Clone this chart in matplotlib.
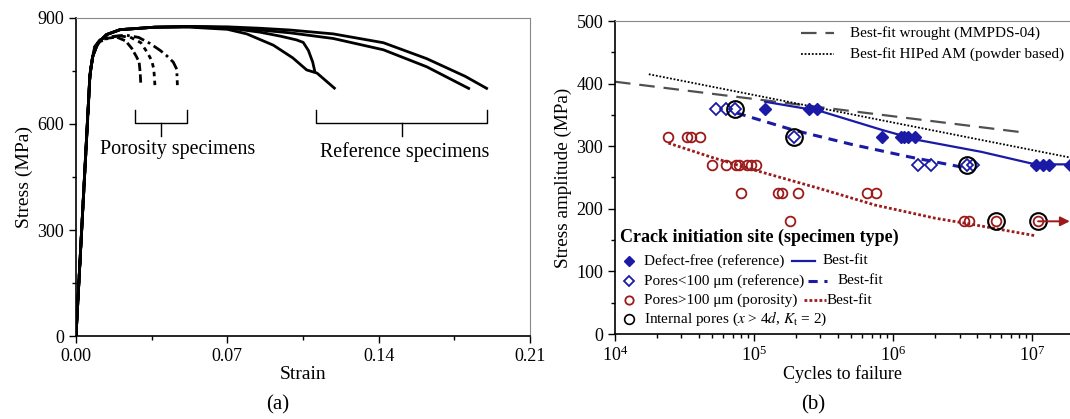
import numpy as np
import matplotlib
matplotlib.use("Agg")
import matplotlib.pyplot as plt
from matplotlib.ticker import MultipleLocator, LogLocator, NullFormatter

plt.rcParams['font.family'] = ['Liberation Serif', 'DejaVu Serif']
plt.rcParams['mathtext.fontset'] = 'stix'

# ---------------- Panel (a) data: stress-strain curves ----------------
ref1_strain = [0.0, 0.0064, 0.0077, 0.0101, 0.0141, 0.0204, 0.0364, 0.0524, 0.0700, 0.0790, 0.0913, 0.1003, 0.1067, 0.1115, 0.1200]
ref1_stress = [0, 735, 791, 829, 853, 867, 874, 874, 868, 855, 823, 787, 753, 744, 699]
ref2_strain = [0.0, 0.0064, 0.0077, 0.0101, 0.0141, 0.0204, 0.0364, 0.0524, 0.0700, 0.0850, 0.0950, 0.1020, 0.1051, 0.1075, 0.1095, 0.1106]
ref2_stress = [0, 735, 791, 829, 853, 867, 874, 876, 872, 860, 848, 838, 831, 808, 775, 745]
ref3_strain = [0.0, 0.0064, 0.0077, 0.0101, 0.0141, 0.0204, 0.0364, 0.0524, 0.0700, 0.0850, 0.0990, 0.1190, 0.1422, 0.1622, 0.1822]
ref3_stress = [0, 735, 791, 829, 853, 867, 874, 876, 873, 866, 858, 842, 810, 762, 699]
ref4_strain = [0.0, 0.0064, 0.0077, 0.0101, 0.0141, 0.0204, 0.0364, 0.0524, 0.0700, 0.0850, 0.0990, 0.1190, 0.1422, 0.1622, 0.1800, 0.1905]
ref4_stress = [0, 735, 791, 829, 853, 867, 874, 876, 875, 871, 866, 855, 830, 785, 735, 699]

por1_strain = [0.0, 0.0066, 0.0085, 0.0110, 0.0150, 0.0188, 0.0230, 0.0258, 0.0280, 0.0292, 0.0297, 0.0300]
por1_stress = [0, 750, 810, 833, 843, 846, 835, 814, 790, 775, 745, 708]
por2_strain = [0.0, 0.0066, 0.0085, 0.0110, 0.0150, 0.0200, 0.0250, 0.0300, 0.0327, 0.0350, 0.0360, 0.0365]
por2_stress = [0, 750, 815, 835, 845, 849, 846, 830, 805, 780, 755, 710]
por3_strain = [0.0, 0.0066, 0.0085, 0.0110, 0.0150, 0.0200, 0.0235, 0.0290, 0.0342, 0.0390, 0.0420, 0.0450, 0.0466, 0.0469]
por3_stress = [0, 750, 818, 838, 846, 850, 851, 845, 828, 808, 793, 775, 755, 710]

# bracket annotations (strain positions, stress levels)
por_bracket = [0.0273, 0.0391, 0.0513]
ref_bracket = [0.1111, 0.1506, 0.1902]
bracket_levels = [640, 604, 567]

# ---------------- Panel (b) data: S-N ----------------
df_N = [1.2e5, 2.5e5, 2.85e5, 8.3e5, 1.13e6, 1.2e6, 1.27e6, 1.43e6, 1.06e7, 1.19e7, 1.32e7, 1.86e7]
df_S = [360, 360, 360, 315, 315, 315, 315, 315, 270, 270, 270, 270]

sp_N = [5.3e4, 6.3e4, 7.3e4, 1.92e5, 1.51e6, 1.86e6, 3.4e6, 3.75e6]
sp_S = [360, 360, 360, 315, 270, 270, 270, 270]

lp_N = [2.42e4, 3.27e4, 3.5e4, 4.06e4,
        5.0e4, 6.24e4, 7.4e4, 7.8e4, 8.9e4, 9.5e4, 1.04e5,
        8.0e4, 1.49e5, 1.59e5, 2.07e5, 6.5e5, 7.5e5,
        1.81e5, 3.25e6, 3.5e6, 5.5e6, 1.1e7]
lp_S = [315, 315, 315, 315,
        270, 270, 270, 270, 270, 270, 270,
        225, 225, 225, 225, 225, 225,
        180, 180, 180, 180, 180]

ip_N = [7.3e4, 1.92e5, 3.4e6, 5.5e6, 1.1e7]
ip_S = [360, 315, 270, 180, 180]

runout_N = [1.1e7, 1.86e7]
runout_S = [180, 180]

fit_df_N = [1.2e5, 3.0e5, 8.3e5, 1.5e6, 4.3e6, 1.05e7, 1.86e7]
fit_df_S = [371, 356, 326, 310, 291, 271, 271]
fit_sp_N = [7.5e4, 1.9e5, 5.0e5, 1.3e6, 3.4e6]
fit_sp_S = [353, 326, 303, 283, 265]
fit_lp_N = [2.42e4, 5.0e4, 1.0e5, 3.0e5, 7.4e5, 2.0e6, 3.5e6, 1.05e7]
fit_lp_S = [305, 282, 262, 232, 206, 185, 176, 157]
wrought_N = [1.0e4, 8.6e6]
wrought_S = [403, 322]
hiped_N = [1.75e4, 1.86e7]
hiped_S = [415, 282]

# ---------------- figure ----------------
W, H = 1070, 419
fig = plt.figure(figsize=(W / 100, H / 100), dpi=100)

def frac(x0, y0, x1, y1):
    return [x0 / W, 1 - y1 / H, (x1 - x0) / W, (y1 - y0) / H]

ax1 = fig.add_axes(frac(76, 18, 530, 336))
ax2 = fig.add_axes(frac(615, 21, 1070, 334))

fs = 13
lab_fs = 14
spine_gray = '#888888'

# ---- panel a ----
lw = 2.0
for s, t in [(ref1_strain, ref1_stress), (ref2_strain, ref2_stress),
             (ref3_strain, ref3_stress), (ref4_strain, ref4_stress)]:
    ax1.plot(s, t, color='black', lw=lw, solid_capstyle='butt')
ax1.plot(por1_strain, por1_stress, color='black', lw=lw, ls=(0, (3, 1.2)))
ax1.plot(por2_strain, por2_stress, color='black', lw=lw, ls=(0, (1.6, 1.6)))
ax1.plot(por3_strain, por3_stress, color='black', lw=lw, ls=(0, (4, 1.5, 1, 1.5)))

for b in (por_bracket, ref_bracket):
    l, c, r = b
    top, mid, bot = bracket_levels
    ax1.plot([l, l, r, r], [top, mid, mid, top], color='black', lw=1.0)
    ax1.plot([c, c], [mid, bot], color='black', lw=1.0)

ax1.text(0.0468, 527, 'Porosity specimens', ha='center', va='center', fontsize=14.4)
ax1.text(0.152, 522, 'Reference specimens', ha='center', va='center', fontsize=14.4)

ax1.set_xlim(0, 0.21)
ax1.set_ylim(0, 900)
ax1.set_xticks([0, 0.07, 0.14, 0.21])
ax1.set_xticklabels(['0.00', '0.07', '0.14', '0.21'])
ax1.xaxis.set_minor_locator(MultipleLocator(0.035))
ax1.set_yticks([0, 300, 600, 900])
ax1.yaxis.set_minor_locator(MultipleLocator(150))
ax1.set_xlabel('Strain', fontsize=lab_fs, labelpad=1)
ax1.set_ylabel('Stress (MPa)', fontsize=lab_fs, labelpad=3)

# ---- panel b ----
blue = '#1a1aa6'
red = '#9c1a1a'

ax2.plot(wrought_N, wrought_S, color='#505050', lw=1.6, ls=(0, (7, 4)))
ax2.plot(hiped_N, hiped_S, color='black', lw=1.3, ls=(0, (1, 1)))
ax2.plot(fit_df_N, fit_df_S, color=blue, lw=1.6)
ax2.plot(fit_sp_N, fit_sp_S, color=blue, lw=2.2, ls=(0, (3, 2.2)))
ax2.plot(fit_lp_N, fit_lp_S, color=red, lw=2.0, ls=(0, (1, 0.8)))

ax2.annotate('', xy=(runout_N[1], runout_S[1]), xytext=(runout_N[0], runout_S[0]),
             arrowprops=dict(arrowstyle='-|>', color=red, lw=1.4, mutation_scale=14,
                             shrinkA=0, shrinkB=0))

ax2.plot(df_N, df_S, ls='none', marker='D', ms=6, color=blue, mec=blue)
ax2.plot(sp_N, sp_S, ls='none', marker='D', ms=6, mfc='none', mec=blue, mew=1.3)
ax2.plot(lp_N, lp_S, ls='none', marker='o', ms=7, mfc='none', mec=red, mew=1.3)
ax2.plot(ip_N, ip_S, ls='none', marker='o', ms=12, mfc='none', mec='black', mew=1.5)

ax2.set_xscale('log')
ax2.set_xlim(1e4, 10 ** (4 + (1070 - 615) / 139.1))
ax2.set_ylim(0, 500)
ax2.set_yticks([0, 100, 200, 300, 400, 500])
ax2.yaxis.set_minor_locator(MultipleLocator(50))
ax2.xaxis.set_major_locator(LogLocator(base=10, numticks=10))
ax2.xaxis.set_minor_locator(LogLocator(base=10, subs=np.arange(2, 10), numticks=20))
ax2.xaxis.set_minor_formatter(NullFormatter())
ax2.set_xlabel('Cycles to failure', fontsize=fs, labelpad=0)
ax2.set_ylabel('Stress amplitude (MPa)', fontsize=13.8, labelpad=3)
ax2.spines['right'].set_visible(False)

# top-right legend (manual)
T = ax2.transAxes
def ax_xy(px, py):
    return ((px - 615) / (1070 - 615), (334 - py) / (334 - 21))

for py, style, col, lwid, label in [
        (33, (0, (7, 4)), '#505050', 1.6, 'Best-fit wrought (MMPDS-04)'),
        (54, (0, (1, 1)), 'black', 1.3, 'Best-fit HIPed AM (powder based)')]:
    x0, y0 = ax_xy(801, py)
    x1, _ = ax_xy(834, py)
    ax2.plot([x0, x1], [y0, y0], transform=T, color=col, ls=style, lw=lwid)
    xt, _ = ax_xy(850, py)
    ax2.text(xt, y0, label, transform=T, fontsize=11, va='center', ha='left')

# bottom-left legend (manual)
xt, yt = ax_xy(620, 237)
ax2.text(xt, yt, 'Crack initiation site (specimen type)', transform=T,
         fontsize=13, fontweight='bold', va='center', ha='left')

rows = [
    (261, dict(marker='D', ms=5, color=blue, mec=blue), 'Defect-free (reference)',
     (792, 815, dict(color=blue, lw=1.6)), 823),
    (281, dict(marker='D', ms=5.5, mfc='none', mec=blue, mew=1.3), 'Pores<100 μm (reference)',
     (808, 827, dict(color=blue, lw=2.2, ls=(0, (3, 2.2)))), 838),
    (300, dict(marker='o', ms=6, mfc='none', mec=red, mew=1.3), 'Pores>100 μm (porosity)',
     (804, 826, dict(color=red, lw=2.0, ls=(0, (1, 0.8)))), 827),
    (319, dict(marker='o', ms=7, mfc='none', mec='black', mew=1.2),
     'Internal pores ($x$ > 4$d$, $K_\\mathrm{t}$ = 2)', None, None),
]
for py, mk, label, line, bx in rows:
    mx, my = ax_xy(629, py)
    ax2.plot([mx], [my], transform=T, ls='none', clip_on=False, **mk)
    tx, _ = ax_xy(644, py)
    ax2.text(tx, my, label, transform=T, fontsize=11, va='center', ha='left')
    if line is not None:
        l0, l1, kw = line
        a0, _ = ax_xy(l0, py)
        a1, _ = ax_xy(l1, py)
        ax2.plot([a0, a1], [my, my], transform=T, **kw)
        bt, _ = ax_xy(bx, py)
        ax2.text(bt, my, 'Best-fit', transform=T, fontsize=11, va='center', ha='left')

# styling both axes
for ax in (ax1, ax2):
    ax.tick_params(axis='both', which='major', direction='out', length=5, width=1,
                   labelsize=fs, colors='black')
    ax.tick_params(axis='both', which='minor', direction='out', length=3, width=1)
    ax.spines['left'].set_linewidth(1.2)
    ax.spines['bottom'].set_linewidth(1.2)
    ax.spines['top'].set_color(spine_gray)
    ax.spines['right'].set_color(spine_gray)

fig.text(278 / W, 1 - 405 / H, '(a)', ha='center', va='center', fontsize=15)
fig.text(813 / W, 1 - 405 / H, '(b)', ha='center', va='center', fontsize=15)

fig.savefig('out.png', dpi=100)
